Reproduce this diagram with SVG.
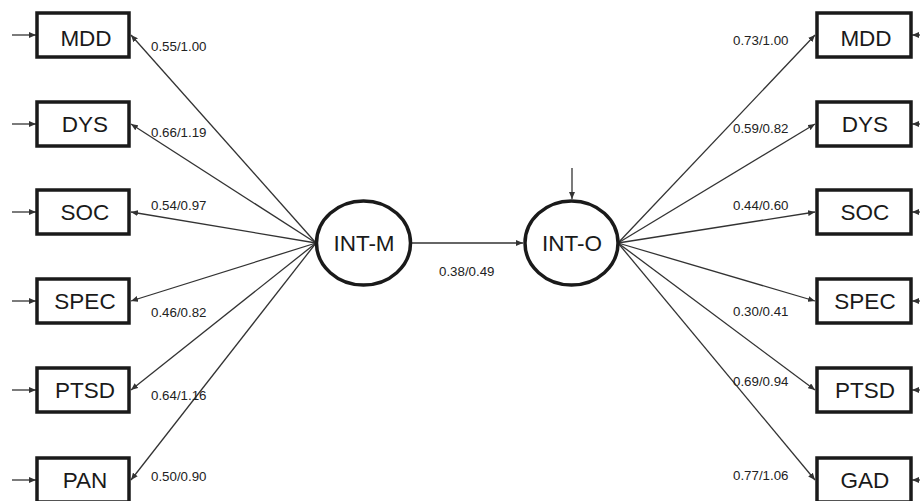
<svg xmlns="http://www.w3.org/2000/svg" width="920" height="501" viewBox="0 0 920 501">
<defs>
<marker id="ah" markerUnits="userSpaceOnUse" markerWidth="8" markerHeight="6" refX="7" refY="3" orient="auto">
<path d="M0,0 L7,3 L0,6 Z" fill="#333"/>
</marker>
<style>
.box{fill:#fff;stroke:#1a1a1a;stroke-width:3.5}
.lat{fill:#fff;stroke:#1a1a1a;stroke-width:3.5}
.nt{font-family:"Liberation Sans",Arial,sans-serif;font-size:22.5px;fill:#1a1a1a;text-anchor:middle}
.lb{font-family:"Liberation Sans",Arial,sans-serif;font-size:13.3px;fill:#222}
.cn{stroke:#333;stroke-width:1.3;fill:none;marker-end:url(#ah)}
</style>
</defs>
<rect width="920" height="501" fill="#fff"/>
<g id="connectors">
<line class="cn" x1="316" y1="243" x2="131" y2="35"/>
<line class="cn" x1="316" y1="243" x2="131" y2="124"/>
<line class="cn" x1="316" y1="243" x2="131" y2="212"/>
<line class="cn" x1="316" y1="243" x2="131" y2="301"/>
<line class="cn" x1="316" y1="243" x2="131" y2="390"/>
<line class="cn" x1="316" y1="243" x2="131" y2="480"/>
<line class="cn" x1="618" y1="243" x2="815" y2="35"/>
<line class="cn" x1="618" y1="243" x2="815" y2="124"/>
<line class="cn" x1="618" y1="243" x2="815" y2="212"/>
<line class="cn" x1="618" y1="243" x2="815" y2="301"/>
<line class="cn" x1="618" y1="243" x2="815" y2="390"/>
<line class="cn" x1="618" y1="243" x2="815" y2="480"/>
<line class="cn" x1="411" y1="243" x2="523" y2="243"/>
<line class="cn" x1="572" y1="168" x2="572" y2="199"/>
<line class="cn" x1="12" y1="35" x2="36" y2="35"/>
<line class="cn" x1="12" y1="124" x2="36" y2="124"/>
<line class="cn" x1="12" y1="212" x2="36" y2="212"/>
<line class="cn" x1="12" y1="301" x2="36" y2="301"/>
<line class="cn" x1="12" y1="390" x2="36" y2="390"/>
<line class="cn" x1="12" y1="480" x2="36" y2="480"/>
<line class="cn" x1="922" y1="35" x2="912" y2="35"/>
<line class="cn" x1="922" y1="124" x2="912" y2="124"/>
<line class="cn" x1="922" y1="212" x2="912" y2="212"/>
<line class="cn" x1="922" y1="301" x2="912" y2="301"/>
<line class="cn" x1="922" y1="390" x2="912" y2="390"/>
<line class="cn" x1="922" y1="480" x2="912" y2="480"/>
</g>
<g id="labels">
<text class="lb" x="151" y="51">0.55/1.00</text>
<text class="lb" x="151" y="137">0.66/1.19</text>
<text class="lb" x="151" y="210">0.54/0.97</text>
<text class="lb" x="151" y="317">0.46/0.82</text>
<text class="lb" x="151" y="400">0.64/1.16</text>
<text class="lb" x="151" y="481">0.50/0.90</text>
<text class="lb" x="733" y="45">0.73/1.00</text>
<text class="lb" x="733" y="133">0.59/0.82</text>
<text class="lb" x="733" y="210">0.44/0.60</text>
<text class="lb" x="733" y="316">0.30/0.41</text>
<text class="lb" x="733" y="386">0.69/0.94</text>
<text class="lb" x="733" y="480">0.77/1.06</text>
<text class="lb" x="439" y="276">0.38/0.49</text>
</g>
<g id="m-mdd"><rect class="box" x="37" y="13" width="92" height="44"/><text class="nt" x="86" y="46">MDD</text></g>
<g id="m-dys"><rect class="box" x="37" y="102" width="92" height="44"/><text class="nt" x="85" y="132">DYS</text></g>
<g id="m-soc"><rect class="box" x="37" y="190" width="92" height="44"/><text class="nt" x="85" y="220">SOC</text></g>
<g id="m-spec"><rect class="box" x="37" y="279" width="92" height="44"/><text class="nt" x="85" y="309">SPEC</text></g>
<g id="m-ptsd"><rect class="box" x="37" y="368" width="92" height="44"/><text class="nt" x="85" y="398">PTSD</text></g>
<g id="m-pan"><rect class="box" x="37" y="458" width="92" height="44"/><text class="nt" x="85" y="488">PAN</text></g>
<g id="o-mdd"><rect class="box" x="817" y="13" width="94" height="44"/><text class="nt" x="866" y="46">MDD</text></g>
<g id="o-dys"><rect class="box" x="817" y="102" width="94" height="44"/><text class="nt" x="865" y="132">DYS</text></g>
<g id="o-soc"><rect class="box" x="817" y="190" width="94" height="44"/><text class="nt" x="865" y="220">SOC</text></g>
<g id="o-spec"><rect class="box" x="817" y="279" width="94" height="44"/><text class="nt" x="865" y="309">SPEC</text></g>
<g id="o-ptsd"><rect class="box" x="817" y="368" width="94" height="44"/><text class="nt" x="865" y="398">PTSD</text></g>
<g id="o-gad"><rect class="box" x="817" y="458" width="94" height="44"/><text class="nt" x="865" y="488">GAD</text></g>
<g id="int-m"><ellipse class="lat" cx="363.5" cy="243" rx="47" ry="42"/><text class="nt" x="364" y="251">INT-M</text></g>
<g id="int-o"><ellipse class="lat" cx="571.5" cy="243" rx="46.5" ry="42"/><text class="nt" x="572" y="251">INT-O</text></g>
</svg>
